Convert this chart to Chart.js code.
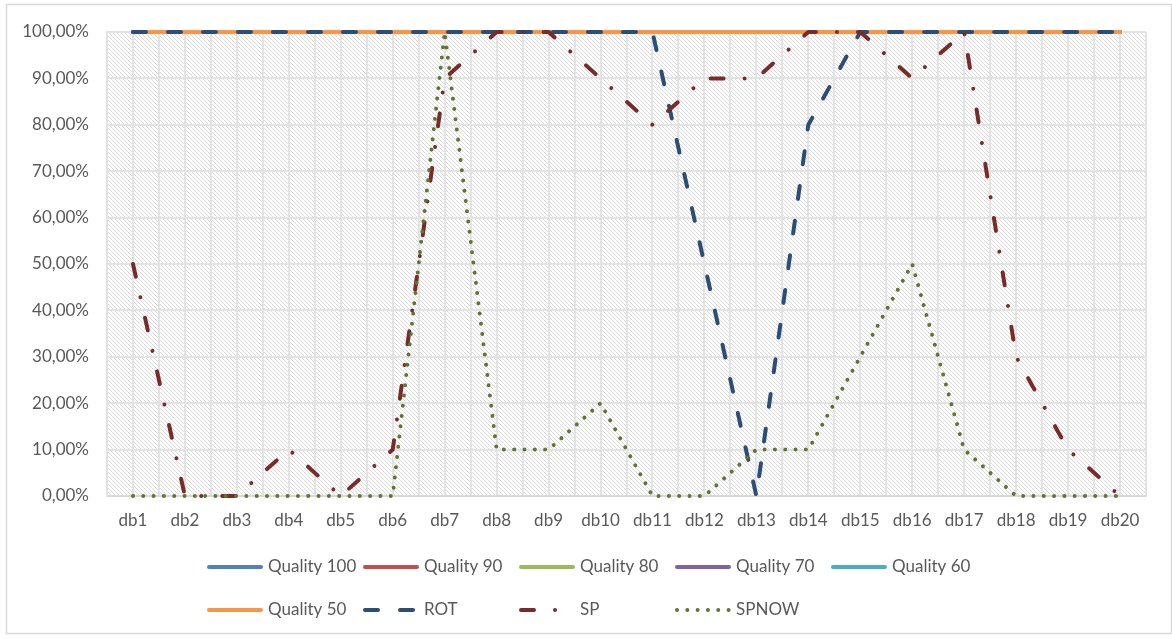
<!DOCTYPE html>
<html><head><meta charset="utf-8">
<script src="https://cdn.jsdelivr.net/npm/chart.js@4.4.0/dist/chart.umd.min.js"></script>
<style>html,body{margin:0;padding:0;background:#fff;overflow:hidden}#wrap{position:relative;width:1172px;height:639px}</style>
</head><body><div id="wrap"><canvas id="c"></canvas></div>
<script>
const categories = ['db1','db2','db3','db4','db5','db6','db7','db8','db9','db10','db11','db12','db13','db14','db15','db16','db17','db18','db19','db20'];
const seriesNames = ['Quality 100','Quality 90','Quality 80','Quality 70','Quality 60','Quality 50','ROT','SP','SPNOW'];
const quality100 = [100,100,100,100,100,100,100,100,100,100,100,100,100,100,100,100,100,100,100,100];
const quality90  = [100,100,100,100,100,100,100,100,100,100,100,100,100,100,100,100,100,100,100,100];
const quality80  = [100,100,100,100,100,100,100,100,100,100,100,100,100,100,100,100,100,100,100,100];
const quality70  = [100,100,100,100,100,100,100,100,100,100,100,100,100,100,100,100,100,100,100,100];
const quality60  = [100,100,100,100,100,100,100,100,100,100,100,100,100,100,100,100,100,100,100,100];
const quality50  = [100,100,100,100,100,100,100,100,100,100,100,100,100,100,100,100,100,100,100,100];
const rot        = [100,100,100,100,100,100,100,100,100,100,100,50,0,80,100,100,100,100,100,100];
const sp         = [50,0,0,10,0,10,90,100,100,90,80,90,90,100,100,90,100,30,10,0];
const spnow      = [0,0,0,0,0,0,100,10,10,20,0,0,10,10,30,50,10,0,0,0];
const yTicks     = [0,10,20,30,40,50,60,70,80,90,100];

const colors = ['#4F81BD','#C0504D','#9BBB59','#8064A2','#4BACC6','#F79646','#2C4D75','#772C2A','#5F7530'];
const dashes = [[],[],[],[],[],[],[13,22],[13,21,0.01,21],[0.01,10.3]];
const allData = [quality100,quality90,quality80,quality70,quality60,quality50,rot,sp,spnow];

const TEXT = '#595959';
const FONT = 'Lato';
Chart.defaults.font.family = FONT;
Chart.defaults.font.size = 17;
Chart.defaults.color = TEXT;

function makePattern(){
  const p = document.createElement('canvas'); p.width = 4; p.height = 4;
  const g = p.getContext('2d');
  g.fillStyle = '#ffffff'; g.fillRect(0,0,4,4);
  g.fillStyle = '#dadada';
  for (let i=0;i<4;i++) g.fillRect(i,i,1,1);
  return p;
}

const bgPlugin = {
  id: 'bg',
  beforeDraw(chart){
    const ctx = chart.ctx, a = chart.chartArea;
    ctx.save();
    ctx.fillStyle = '#fff'; ctx.fillRect(0,0,chart.width,chart.height);
    ctx.fillStyle = ctx.createPattern(makePattern(),'repeat');
    ctx.fillRect(a.left,a.top,a.right-a.left,a.bottom-a.top);
    ctx.strokeStyle = '#D9D9D9'; ctx.lineWidth = 1.5;
    ctx.strokeRect(6.5,4.5,1165,629);
    ctx.restore();
  }
};

const legendPlugin = {
  id: 'gridLegend',
  afterDraw(chart){
    const ctx = chart.ctx;
    ctx.save();
    chart.data.datasets.forEach((ds,i)=>{
      const col = i % 5, row = Math.floor(i/5);
      const x0 = 207 + col*156;
      const y = 567 + row*43;
      ctx.beginPath();
      ctx.strokeStyle = ds.borderColor;
      ctx.lineWidth = ds.borderWidth;
      ctx.lineCap = 'round';
      ctx.setLineDash(ds.borderDash || []);
      ctx.moveTo(x0+2,y); ctx.lineTo(x0+54,y);
      ctx.stroke();
      ctx.setLineDash([]);
      ctx.fillStyle = TEXT;
      ctx.font = '17px ' + FONT;
      ctx.textBaseline = 'middle';
      ctx.textAlign = 'left';
      ctx.fillText(ds.label, x0+61, y);
    });
    ctx.restore();
  }
};

const datasets = seriesNames.map((name,i)=>({
  label: name,
  data: allData[i],
  borderColor: colors[i],
  backgroundColor: colors[i],
  borderWidth: 4,
  borderDash: dashes[i],
  borderCapStyle: 'round',
  borderJoinStyle: 'round',
  pointRadius: 0,
  pointHoverRadius: 0,
  tension: 0,
  fill: false,
  clip: 6,
  order: seriesNames.length - i
}));

new Chart(document.getElementById('c'), {
  type: 'line',
  data: { labels: categories, datasets },
  options: {
    responsive: true,
    maintainAspectRatio: false,
    animation: false,
    events: [],
    layout: { padding: { top: 32, right: 26, left: 0, bottom: 0 } },
    plugins: { legend: { display: false }, tooltip: { enabled: false } },
    scales: {
      x: {
        type: 'category',
        offset: true,
        grid: { offset: false, color: '#E3E3E3', lineWidth: 2, drawTicks: false },
        border: { display: true, color: '#D9D9D9', width: 2 },
        ticks: { padding: 14, maxRotation: 0, autoSkip: false, color: TEXT, font: { size: 17 } },
        afterFit(s){ s.height = 143; }
      },
      x2: {
        type: 'category',
        labels: categories,
        position: 'bottom',
        offset: true,
        grid: { offset: true, color: '#E3E3E3', lineWidth: 2, drawTicks: false },
        border: { display: false },
        ticks: { display: false },
        afterFit(s){ s.height = 0; }
      },
      y: {
        min: 0, max: 100,
        afterBuildTicks(s){ s.ticks = yTicks.map(v=>({value:v})); },
        grid: { color: '#E3E3E3', lineWidth: 2, drawTicks: false },
        border: { display: true, color: '#E3E3E3', width: 2 },
        ticks: {
          padding: 18, color: TEXT, font: { size: 17 },
          callback: v => v.toFixed(2).replace('.', ',') + '%'
        },
        afterFit(s){ s.width = 107; }
      }
    }
  },
  plugins: [bgPlugin, legendPlugin]
});
</script>
</body></html>
